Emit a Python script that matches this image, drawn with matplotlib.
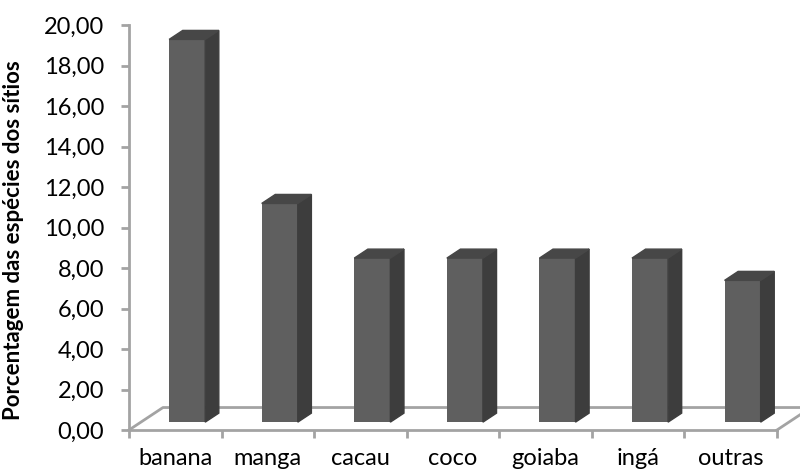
import matplotlib.pyplot as plt
from matplotlib.patches import Polygon

# dados do gráfico
especies = ['banana', 'manga', 'cacau', 'coco', 'goiaba', 'ingá', 'outras']
porcentagem = [18.9, 10.8, 8.1, 8.1, 8.1, 8.1, 7.0]
y_ticks = [0, 2, 4, 6, 8, 10, 12, 14, 16, 18, 20]
y_labels = ['%.2f' % v for v in y_ticks]
y_labels = [s.replace('.', ',') for s in y_labels]

# profundidade do "3D" (em unidades dos eixos)
prof_x = 0.367
prof_y = 1.11
f1, f2 = 0.35, 0.75  # posicao da face frontal e traseira das barras
largura = 0.39

cor_frente = '#5f5f5f'
cor_lado = '#3d3d3d'
cor_topo = '#474747'
cor_eixo = '#a3a3a3'

plt.rcParams['font.family'] = ['Lato', 'DejaVu Sans']

fig = plt.figure(figsize=(8, 4.75), dpi=100)
ax = fig.add_axes([129/800, 45/475, 648/800, 405/475])
ax.set_xlim(0, len(especies))
ax.set_ylim(0, 20)

# chao
ax.plot([0, prof_x, len(especies) + prof_x], [0, prof_y, prof_y],
        color=cor_eixo, lw=2, clip_on=False, zorder=1)
ax.plot([len(especies), len(especies) + prof_x], [0, prof_y],
        color=cor_eixo, lw=2, clip_on=False, zorder=1)

for i, v in enumerate(porcentagem):
    x0 = i + 0.5 - largura / 2
    x1 = x0 + largura
    ox1, oy1 = f1 * prof_x, f1 * prof_y
    ox2, oy2 = f2 * prof_x, f2 * prof_y
    # face frontal
    ax.bar(x0 + ox1, v, width=largura, bottom=oy1, align='edge',
           color=cor_frente, zorder=3)
    # lado direito
    lado = Polygon([(x1 + ox1, oy1), (x1 + ox2, oy2), (x1 + ox2, v + oy2),
                    (x1 + ox1, v + oy1)], closed=True, color=cor_lado, zorder=3)
    ax.add_patch(lado)
    # topo
    topo = Polygon([(x0 + ox1, v + oy1), (x0 + ox2, v + oy2), (x1 + ox2, v + oy2),
                    (x1 + ox1, v + oy1)], closed=True, color=cor_topo, zorder=3)
    ax.add_patch(topo)

for s in ['top', 'right']:
    ax.spines[s].set_visible(False)
for s in ['left', 'bottom']:
    ax.spines[s].set_color(cor_eixo)
    ax.spines[s].set_linewidth(2)

ax.set_yticks(y_ticks)
ax.set_yticklabels(y_labels, fontsize=17)
ax.tick_params(axis='y', color=cor_eixo, width=2, length=6, pad=12)

ax.set_xticks(range(len(especies) + 1))
ax.set_xticklabels([])
ax.tick_params(axis='x', which='major', color=cor_eixo, width=2, length=6)
ax.set_xticks([i + 0.5 for i in range(len(especies))], minor=True)
ax.set_xticklabels(especies, minor=True, fontsize=17)
ax.tick_params(axis='x', which='minor', length=0, pad=13)

ax.set_ylabel('Porcentagem das espécies dos sítios', fontsize=16,
              fontweight='bold')
ax.yaxis.set_label_coords(-105/648, 0.47)

fig.savefig('out.png', dpi=100)
